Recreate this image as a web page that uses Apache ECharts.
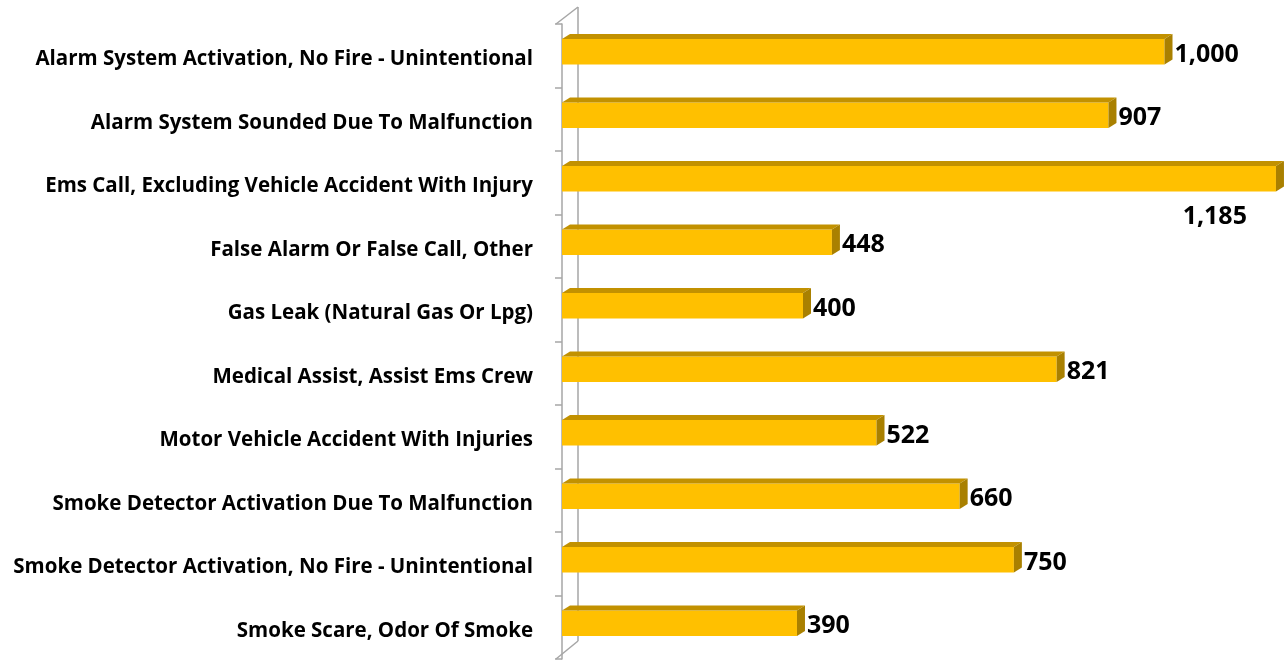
<!DOCTYPE html>
<html>
<head>
<meta charset="utf-8">
<script src="https://cdn.jsdelivr.net/npm/echarts@6/dist/echarts.min.js"></script>
<style>
  html, body { margin: 0; padding: 0; background: #fff; }
  #main { width: 1285px; height: 660px; }
</style>
</head>
<body>
<div id="main"></div>
<script>
// incident types, top to bottom
const categories = [
    'Alarm System Activation, No Fire - Unintentional',
    'Alarm System Sounded Due To Malfunction',
    'Ems Call, Excluding Vehicle Accident With Injury',
    'False Alarm Or False Call, Other',
    'Gas Leak (Natural Gas Or Lpg)',
    'Medical Assist, Assist Ems Crew',
    'Motor Vehicle Accident With Injuries',
    'Smoke Detector Activation Due To Malfunction',
    'Smoke Detector Activation, No Fire - Unintentional',
    'Smoke Scare, Odor Of Smoke'
];
const counts = [1000, 907, 1185, 448, 400, 821, 522, 660, 750, 390];

const depthX = 8, depthY = 5;   // fake 3d depth
const faceH = 25.5;

const chart = echarts.init(document.getElementById('main'));

function renderBar(params, api) {
    const idx = api.value(0);
    const val = api.value(1);
    const p0 = api.coord([0, idx]);
    const p1 = api.coord([val, idx]);
    const x0 = p0[0], x1 = p1[0];
    const cy = p0[1] - 4;
    const yt = cy - faceH / 2, yb = cy + faceH / 2;
    const label = echarts.format.addCommas(val);
    let textStyle;
    if (x1 + depthX + 75 > params.coordSys.x + params.coordSys.width) {
        // no room on the right, drop it under the bar
        textStyle = { x: x1 - 29, y: yb + 25, align: 'right', verticalAlign: 'middle' };
    } else {
        textStyle = { x: x1 + depthX + 2, y: cy + 3, align: 'left', verticalAlign: 'middle' };
    }
    return {
        type: 'group',
        children: [
            { type: 'rect', shape: { x: x0, y: yt, width: x1 - x0, height: faceH },
              style: { fill: '#FFC000' } },
            { type: 'polygon', shape: { points: [[x0, yt], [x0 + depthX, yt - depthY], [x1 + depthX, yt - depthY], [x1, yt]] },
              style: { fill: '#C29100' } },
            { type: 'polygon', shape: { points: [[x1, yt], [x1 + depthX, yt - depthY], [x1 + depthX, yb - depthY], [x1, yb]] },
              style: { fill: '#A98000' } },
            { type: 'text', style: Object.assign({
                text: label, fill: '#000', fontFamily: 'Open Sans', fontWeight: 'bold', fontSize: 25
              }, textStyle) }
        ]
    };
}

chart.setOption({
    animation: false,
    grid: {
        left: 562,
        top: 24,
        width: 725,
        height: 635
    },
    xAxis: {
        type: 'value',
        min: 0,
        max: 1200,
        show: false
    },
    yAxis: {
        type: 'category',
        data: categories,
        inverse: true,
        offset: 6,
        axisLine: { show: true, lineStyle: { color: '#A6A6A6', width: 1.5 } },
        axisTick: { show: true, length: 7, lineStyle: { color: '#A6A6A6', width: 1.5 } },
        axisLabel: {
            margin: 23,
            formatter: '{a|{value}}',
            rich: {
                a: {
                    color: '#000',
                    fontFamily: 'Open Sans',
                    fontWeight: 'bold',
                    fontSize: 20.5,
                    padding: [7, 0, 0, 0]
                }
            }
        },
        splitLine: { show: false }
    },
    series: [{
        type: 'custom',
        renderItem: renderBar,
        encode: { x: 1, y: 0 },
        data: counts.map((v, i) => [i, v])
    }]
});

// back wall edges of the 3d plot area
const wallStyle = { stroke: '#A6A6A6', lineWidth: 1.5 };
chart.setOption({
    graphic: [
        { type: 'line', shape: { x1: 556, y1: 24, x2: 578, y2: 7 }, style: wallStyle },
        { type: 'line', shape: { x1: 578, y1: 7, x2: 578, y2: 641 }, style: wallStyle },
        { type: 'line', shape: { x1: 556, y1: 659, x2: 578, y2: 641 }, style: wallStyle }
    ]
});
</script>
</body>
</html>
